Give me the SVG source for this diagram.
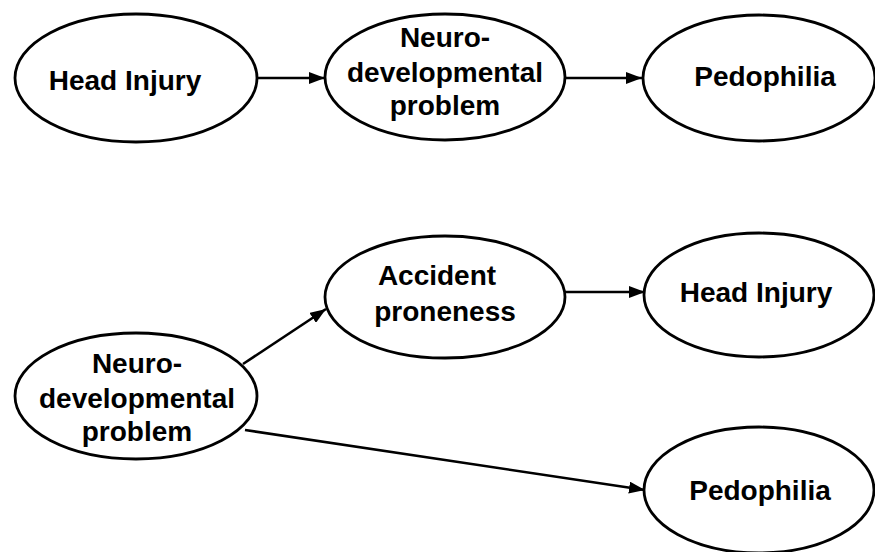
<svg xmlns="http://www.w3.org/2000/svg" width="875" height="552" viewBox="0 0 875 552">
<style>
.node ellipse{fill:#fff;stroke:#000;stroke-width:2.8}
.node text{font-family:"Liberation Sans",Arial,sans-serif;font-weight:bold;font-size:28px;fill:#000;text-anchor:middle}
.edges line{stroke:#000;stroke-width:2.6;marker-end:url(#ah)}
</style>
<defs>
<marker id="ah" viewBox="0 0 16 12" refX="16" refY="6" markerWidth="16" markerHeight="12" markerUnits="userSpaceOnUse" orient="auto">
<path d="M0,0 L16,6 L0,12 Z" fill="#000"/>
</marker>
</defs>
<rect width="875" height="552" fill="#fff"/>
<g class="edges">
<line x1="258" y1="78" x2="325" y2="78"/>
<line x1="565" y1="78" x2="642" y2="78"/>
<line x1="565" y1="292" x2="645" y2="292"/>
<line x1="243" y1="364" x2="326" y2="309"/>
<line x1="245" y1="430" x2="645" y2="490"/>
</g>
<g id="n1" class="node">
<ellipse cx="136" cy="78" rx="121" ry="64"/>
<text x="125" y="90">Head Injury</text>
</g>
<g id="n2" class="node">
<ellipse cx="445" cy="77" rx="120" ry="63"/>
<text x="445" y="47">Neuro-</text>
<text x="445" y="82">developmental</text>
<text x="445" y="115">problem</text>
</g>
<g id="n3" class="node">
<ellipse cx="759" cy="78" rx="116" ry="63"/>
<text x="765" y="86">Pedophilia</text>
</g>
<g id="n4" class="node">
<ellipse cx="445" cy="297" rx="120" ry="61"/>
<text x="437" y="285">Accident</text>
<text x="445" y="321">proneness</text>
</g>
<g id="n5" class="node">
<ellipse cx="759" cy="295" rx="115" ry="62"/>
<text x="756" y="302">Head Injury</text>
</g>
<g id="n6" class="node">
<ellipse cx="136" cy="396" rx="121" ry="63"/>
<text x="137" y="373">Neuro-</text>
<text x="137" y="408">developmental</text>
<text x="137" y="441">problem</text>
</g>
<g id="n7" class="node">
<ellipse cx="759" cy="490" rx="115" ry="63"/>
<text x="760" y="500">Pedophilia</text>
</g>
</svg>
